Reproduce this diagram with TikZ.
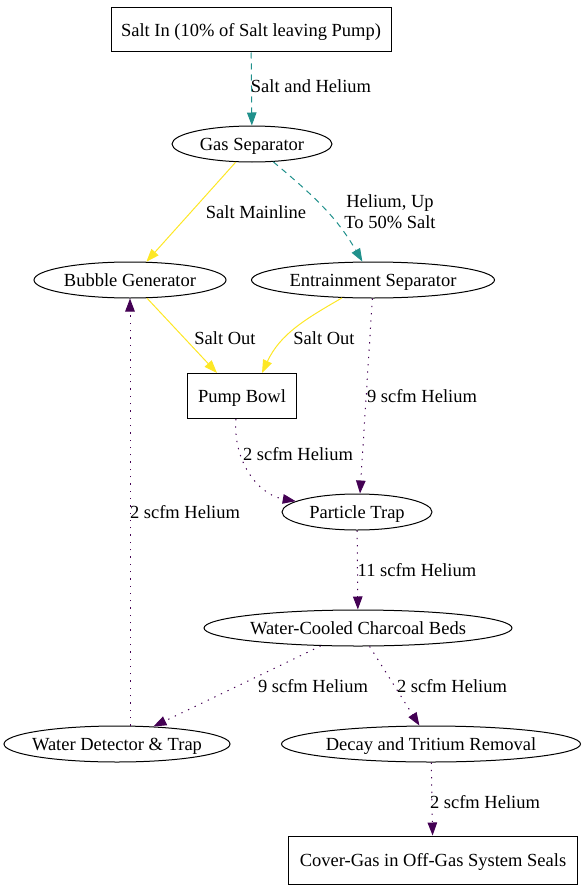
\documentclass[tikz,border=0pt]{standalone}
\usepackage{fontspec}
\setmainfont{Liberation Serif}
\usetikzlibrary{shapes.geometric,arrows.meta}
\definecolor{cteal}{HTML}{21918C}
\definecolor{cyel}{HTML}{FDE725}
\definecolor{cpur}{HTML}{440154}
\begin{document}
\begin{tikzpicture}[x=1pt,y=-1pt,
  every node/.style={font=\fontsize{18.5}{21}\selectfont},
  boxn/.style={draw,line width=1pt,rectangle,inner sep=0pt,minimum height=44pt,text height=12.5pt,text depth=0pt},
  elln/.style={draw,line width=1pt,ellipse,inner xsep=-40pt,inner ysep=0pt,minimum height=36pt,text height=12.5pt,text depth=0pt},
  lbl/.style={inner sep=0pt,align=center},
  tip/.style={-{Triangle[length=13pt,width=9.5pt]}},
  saltline/.style={tip,draw=cyel,line width=1pt},
  heline/.style={tip,draw=cteal,line width=1pt,dash pattern=on 6pt off 5pt},
  gasline/.style={tip,draw=cpur,line width=1pt,dash pattern=on 1.3pt off 6pt}]
\useasboundingbox (0,0) rectangle (586,891);
\node[boxn,minimum width=280pt] (si) at (251,30) {Salt In (10\% of Salt leaving Pump)};
\node[elln,minimum width=160pt] (gs) at (252,144) {Gas Separator};
\node[elln,minimum width=192pt] (bg) at (130,280) {Bubble Generator};
\node[elln,minimum width=243pt] (es) at (373,280) {Entrainment Separator};
\node[boxn,minimum width=109pt,minimum height=45pt] (pb) at (242,396) {Pump Bowl};
\node[elln,minimum width=150pt] (pt) at (357,512) {Particle Trap};
\node[elln,minimum width=308pt] (cb) at (358,628) {Water-Cooled Charcoal Beds};
\node[elln,minimum width=226pt] (wd) at (117,744) {Water Detector \& Trap};
\node[elln,minimum width=299pt] (dt) at (431,744) {Decay and Tritium Removal};
\node[boxn,minimum width=289pt,minimum height=48pt] (cg) at (433,860) {Cover-Gas in Off-Gas System Seals};

\draw[heline] (si) -- (gs);
\draw[saltline] (gs) -- (bg);
\draw[heline] (gs) to[out=-40,in=120] (es);
\draw[saltline] (bg) -- (pb.north -| 217,0);
\draw[saltline] (es) to[out=-150,in=65] (pb.north -| 262,0);
\draw[gasline] (es.-92) -- (pt.north -| 360,0);
\draw[gasline] (pb.south -| 236,0) to[out=-95,in=170] (pt);
\draw[gasline] (pt) -- (cb);
\draw[gasline] (cb) -- (wd);
\draw[gasline] (cb) -- (dt);
\draw[gasline] (dt) -- (cg);
\draw[gasline] (bg.south |- wd.north) -- (bg.south);

\node[lbl] (l1) at (311,86) {Salt and Helium};
\node[lbl] (l2) at (256,212) {Salt Mainline};
\node[lbl] (l3) at (390,212) {Helium, Up\\To 50\% Salt};
\node[lbl] (l4) at (225,338) {Salt Out};
\node[lbl] (l5) at (324,338) {Salt Out};
\node[lbl] (l6) at (422,396) {9 scfm Helium};
\node[lbl] (l7) at (298,454) {2 scfm Helium};
\node[lbl] (l8) at (185,512) {2 scfm Helium};
\node[lbl] (l9) at (417,570) {11 scfm Helium};
\node[lbl] (l10) at (313,686) {9 scfm Helium};
\node[lbl] (l11) at (452,686) {2 scfm Helium};
\node[lbl] (l12) at (485,802) {2 scfm Helium};
\end{tikzpicture}
\end{document}
